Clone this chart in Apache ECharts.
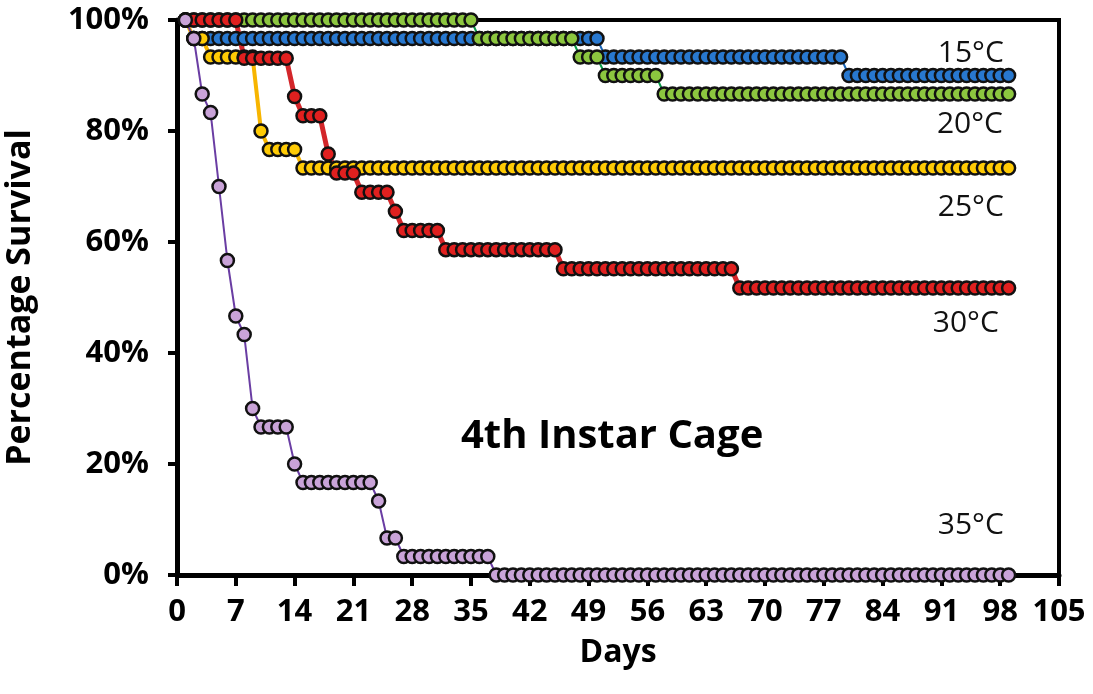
<!DOCTYPE html>
<html><head><meta charset="utf-8">
<script src="https://cdn.jsdelivr.net/npm/echarts@6/dist/echarts.min.js"></script>
<style>html,body{margin:0;padding:0;background:#fff}#c{width:1093px;height:694px}</style>
</head><body><div id="c"></div>
<script>
// Days 1..99 (one observation per day)
const days = [
 1,2,3,4,5,6,7,8,9,10,
 11,12,13,14,15,16,17,18,19,20,
 21,22,23,24,25,26,27,28,29,30,
 31,32,33,34,35,36,37,38,39,40,
 41,42,43,44,45,46,47,48,49,50,
 51,52,53,54,55,56,57,58,59,60,
 61,62,63,64,65,66,67,68,69,70,
 71,72,73,74,75,76,77,78,79,80,
 81,82,83,84,85,86,87,88,89,90,
 91,92,93,94,95,96,97,98,99
];
// Percentage survival per day
const surv15 = [
 100,96.67,96.67,96.67,96.67,96.67,96.67,96.67,96.67,96.67,
 96.67,96.67,96.67,96.67,96.67,96.67,96.67,96.67,96.67,96.67,
 96.67,96.67,96.67,96.67,96.67,96.67,96.67,96.67,96.67,96.67,
 96.67,96.67,96.67,96.67,96.67,96.67,96.67,96.67,96.67,96.67,
 96.67,96.67,96.67,96.67,96.67,96.67,96.67,96.67,96.67,96.67,
 93.33,93.33,93.33,93.33,93.33,93.33,93.33,93.33,93.33,93.33,
 93.33,93.33,93.33,93.33,93.33,93.33,93.33,93.33,93.33,93.33,
 93.33,93.33,93.33,93.33,93.33,93.33,93.33,93.33,93.33,90,
 90,90,90,90,90,90,90,90,90,90,
 90,90,90,90,90,90,90,90,90
];
const surv20 = [
 100,100,100,100,100,100,100,100,100,100,
 100,100,100,100,100,100,100,100,100,100,
 100,100,100,100,100,100,100,100,100,100,
 100,100,100,100,100,96.67,96.67,96.67,96.67,96.67,
 96.67,96.67,96.67,96.67,96.67,96.67,96.67,93.33,93.33,93.33,
 90,90,90,90,90,90,90,86.67,86.67,86.67,
 86.67,86.67,86.67,86.67,86.67,86.67,86.67,86.67,86.67,86.67,
 86.67,86.67,86.67,86.67,86.67,86.67,86.67,86.67,86.67,86.67,
 86.67,86.67,86.67,86.67,86.67,86.67,86.67,86.67,86.67,86.67,
 86.67,86.67,86.67,86.67,86.67,86.67,86.67,86.67,86.67
];
const surv25 = [
 100,96.67,96.67,93.33,93.33,93.33,93.33,93.33,93.33,80,
 76.67,76.67,76.67,76.67,73.33,73.33,73.33,73.33,73.33,73.33,
 73.33,73.33,73.33,73.33,73.33,73.33,73.33,73.33,73.33,73.33,
 73.33,73.33,73.33,73.33,73.33,73.33,73.33,73.33,73.33,73.33,
 73.33,73.33,73.33,73.33,73.33,73.33,73.33,73.33,73.33,73.33,
 73.33,73.33,73.33,73.33,73.33,73.33,73.33,73.33,73.33,73.33,
 73.33,73.33,73.33,73.33,73.33,73.33,73.33,73.33,73.33,73.33,
 73.33,73.33,73.33,73.33,73.33,73.33,73.33,73.33,73.33,73.33,
 73.33,73.33,73.33,73.33,73.33,73.33,73.33,73.33,73.33,73.33,
 73.33,73.33,73.33,73.33,73.33,73.33,73.33,73.33,73.33
];
const surv30 = [
 100,100,100,100,100,100,100,93.1,93.1,93.1,
 93.1,93.1,93.1,86.21,82.76,82.76,82.76,75.86,72.41,72.41,
 72.41,68.97,68.97,68.97,68.97,65.52,62.07,62.07,62.07,62.07,
 62.07,58.62,58.62,58.62,58.62,58.62,58.62,58.62,58.62,58.62,
 58.62,58.62,58.62,58.62,58.62,55.17,55.17,55.17,55.17,55.17,
 55.17,55.17,55.17,55.17,55.17,55.17,55.17,55.17,55.17,55.17,
 55.17,55.17,55.17,55.17,55.17,55.17,51.72,51.72,51.72,51.72,
 51.72,51.72,51.72,51.72,51.72,51.72,51.72,51.72,51.72,51.72,
 51.72,51.72,51.72,51.72,51.72,51.72,51.72,51.72,51.72,51.72,
 51.72,51.72,51.72,51.72,51.72,51.72,51.72,51.72,51.72
];
const surv35 = [
 100,96.67,86.67,83.33,70,56.67,46.67,43.33,30,26.67,
 26.67,26.67,26.67,20,16.67,16.67,16.67,16.67,16.67,16.67,
 16.67,16.67,16.67,13.33,6.67,6.67,3.33,3.33,3.33,3.33,
 3.33,3.33,3.33,3.33,3.33,3.33,3.33,0,0,0,
 0,0,0,0,0,0,0,0,0,0,
 0,0,0,0,0,0,0,0,0,0,
 0,0,0,0,0,0,0,0,0,0,
 0,0,0,0,0,0,0,0,0,0,
 0,0,0,0,0,0,0,0,0,0,
 0,0,0,0,0,0,0,0,0
];
const seriesNames = ['15°C','20°C','25°C','30°C','35°C'];
const xTicks = {min:0, max:105, interval:7};
const yTicks = {min:0, max:100, interval:20};
const chartTitle = '4th Instar Cage';

const chart = echarts.init(document.getElementById('c'), null, {renderer:'canvas'});

function mk(name, vals, fill, lineColor, lw) {
  return {
    type:'line', name: name,
    data: days.map((d,i)=>[d, vals[i]]),
    symbol:'circle', symbolSize:13, showSymbol:true, showAllSymbol:true, clip:false,
    lineStyle:{color:lineColor, width:lw},
    itemStyle:{color:fill, borderColor:'#111', borderWidth:2.5},
    emphasis:{disabled:true}, silent:true
  };
}

const FONT = '"Open Sans", "Liberation Sans", sans-serif';

chart.setOption({
  animation:false,
  backgroundColor:'#fff',
  grid:{left:177, right:34, top:20, bottom:119, outerBoundsMode:'none', containLabel:false,
        show:true, borderColor:'#000', borderWidth:4, backgroundColor:'transparent'},
  xAxis:{
    type:'value', min:xTicks.min, max:xTicks.max, interval:xTicks.interval,
    name:'Days', nameLocation:'middle', nameGap:62,
    nameTextStyle:{fontFamily:FONT, fontWeight:'bold', fontSize:32, color:'#000'},
    axisLine:{show:true, lineStyle:{color:'#000', width:5}},
    axisTick:{show:true, inside:false, length:11, lineStyle:{color:'#000', width:4}},
    axisLabel:{fontFamily:FONT, fontWeight:'bold', fontSize:31, color:'#000', margin:22},
    splitLine:{show:false}
  },
  yAxis:{
    type:'value', min:yTicks.min, max:yTicks.max, interval:yTicks.interval,
    name:'Percentage Survival', nameLocation:'middle', nameGap:140, nameRotate:90,
    nameTextStyle:{fontFamily:FONT, fontWeight:'bold', fontSize:34, color:'#000'},
    axisLine:{show:true, lineStyle:{color:'#000', width:5}},
    axisTick:{show:true, inside:false, length:9, lineStyle:{color:'#000', width:4}},
    axisLabel:{fontFamily:FONT, fontWeight:'bold', fontSize:31, color:'#000', margin:28, formatter:'{value}%'},
    splitLine:{show:false}
  },
  series:[
    mk(seriesNames[0], surv15, '#2878cf', '#1a66b8', 2),
    mk(seriesNames[1], surv20, '#8cc63f', '#0a9a48', 2),
    mk(seriesNames[2], surv25, '#ffcb05', '#f7b500', 4),
    mk(seriesNames[3], surv30, '#e0201f', '#d3262a', 5),
    mk(seriesNames[4], surv35, '#c9a3d8', '#6a3da3', 2)
  ]
});

// series label anchors in data coordinates (day, %)
const labelAnchors = [[94.5, 93.9],[94.4, 81.1],[94.5, 66.3],[93.9, 45.4],[94.5, 9.0]];
const g = labelAnchors.map((a,i)=>{
  const p = chart.convertToPixel({gridIndex:0}, a);
  return {type:'text', x:p[0], y:p[1], z:100,
    style:{text:seriesNames[i], fill:'#111', font:'30px "Open Sans", sans-serif', align:'center', verticalAlign:'middle'}};
});
const tp = chart.convertToPixel({gridIndex:0}, [51.8, 24.9]);
g.push({type:'text', x:tp[0], y:tp[1], z:100,
  style:{text:chartTitle, fill:'#000', font:'bold 40px "Open Sans", sans-serif', align:'center', verticalAlign:'middle'}});
chart.setOption({graphic:g});
</script>
</body></html>
